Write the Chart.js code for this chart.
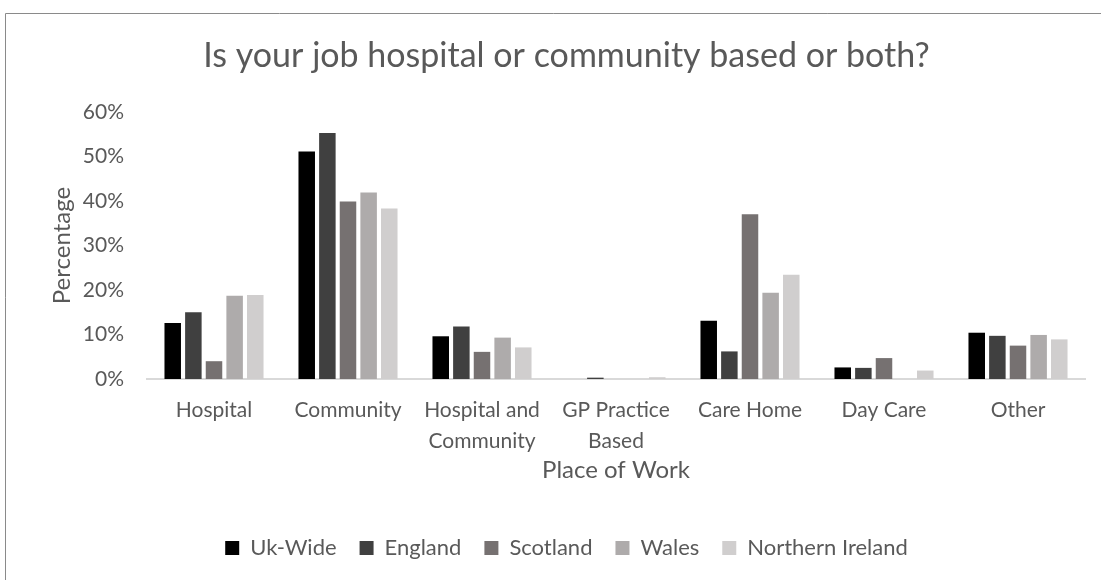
<!DOCTYPE html>
<html>
<head>
<meta charset="utf-8">
<script src="https://cdn.jsdelivr.net/npm/chart.js@4.4.1/dist/chart.umd.min.js"></script>
<style>
  html, body { margin: 0; padding: 0; background: #ffffff; }
  #wrap { position: relative; width: 1101px; height: 580px; }
  canvas { display: block; }
</style>
</head>
<body>
<div id="wrap"><canvas id="c" width="1101" height="580"></canvas></div>
<script>
const categories = ["Hospital", "Community", ["Hospital and", "Community"], ["GP Practice", "Based"], "Care Home", "Day Care", "Other"];
const seriesNames = ["Uk-Wide", "England", "Scotland", "Wales", "Northern Ireland"];
const ukWide   = [12.6, 51.1, 9.6, 0.0, 13.1, 2.6, 10.4];
const england  = [15.0, 55.3, 11.8, 0.3, 6.2, 2.5, 9.7];
const scotland = [4.0, 39.9, 6.1, 0.0, 37.0, 4.7, 7.5];
const wales    = [18.7, 41.9, 9.3, 0.0, 19.4, 0.0, 9.9];
const nIreland = [18.9, 38.3, 7.1, 0.4, 23.4, 1.9, 8.9];
const seriesColors = ["#000000", "#404040", "#767171", "#AEABAB", "#D0CECE"];
const yTicks = [0, 10, 20, 30, 40, 50, 60];
const chartTitle = "Is your job hospital or community based or both?";
const xTitle = "Place of Work";
const yTitle = "Percentage";

const FONT = "Lato, 'Open Sans', sans-serif";
const TEXT = "#595959";

const allSeries = [ukWide, england, scotland, wales, nIreland];

const decorPlugin = {
  id: 'decor',
  beforeDraw(chart) {
    const ctx = chart.ctx;
    ctx.save();
    ctx.fillStyle = '#ffffff';
    ctx.fillRect(0, 0, chart.width, chart.height);
    ctx.strokeStyle = '#8a8a8a';
    ctx.lineWidth = 1;
    ctx.beginPath();
    ctx.moveTo(5.5, chart.height + 5);
    ctx.lineTo(5.5, 13.5);
    ctx.lineTo(chart.width + 5, 13.5);
    ctx.stroke();
    ctx.restore();
  },
  afterLayout(chart) {
    if (chart.legend) {
      chart.legend.left += 19;
      chart.legend.right += 19;
    }
    if (chart.titleBlock) {
      chart.titleBlock.left += 19;
      chart.titleBlock.right += 19;
    }
  }
};

new Chart(document.getElementById('c'), {
  type: 'bar',
  data: {
    labels: categories,
    datasets: seriesNames.map((name, i) => ({
      label: name,
      data: allSeries[i],
      backgroundColor: seriesColors[i],
      borderWidth: 0,
      categoryPercentage: 0.77,
      barPercentage: 0.8
    }))
  },
  options: {
    responsive: false,
    animation: false,
    devicePixelRatio: 1,
    layout: { padding: { left: 10, right: 16, top: 0, bottom: 11 } },
    plugins: {
      title: {
        display: true,
        text: chartTitle,
        color: TEXT,
        font: { family: FONT, size: 34, weight: 'normal', lineHeight: 1.2 },
        padding: { top: 35.6, bottom: 35.6 }
      },
      legend: {
        position: 'bottom',
        labels: {
          color: TEXT,
          font: { family: FONT, size: 22 },
          boxWidth: 14,
          boxHeight: 14,
          padding: 23
        }
      },
      tooltip: { enabled: false }
    },
    scales: {
      x: {
        grid: { display: false, drawTicks: false },
        border: { display: true, color: '#d9d9d9', width: 2 },
        ticks: { color: TEXT, font: { family: FONT, size: 21, lineHeight: 1.476 }, padding: 15.7, maxRotation: 0, autoSkip: false },
        title: { display: true, text: xTitle, color: TEXT, font: { family: FONT, size: 24, lineHeight: 1.2 }, padding: { top: 4, bottom: 29.6 } },
        afterFit(scale) { scale.height = 135; }
      },
      y: {
        min: 0,
        max: 60,
        afterBuildTicks(scale) { scale.ticks = yTicks.map(v => ({ value: v })); },
        grid: { display: false, drawTicks: false },
        border: { display: false },
        ticks: { color: TEXT, font: { family: FONT, size: 21 }, padding: 23, callback: v => v + '%' },
        title: { display: true, text: yTitle, color: TEXT, font: { family: FONT, size: 24, lineHeight: 1.2 }, padding: { top: 37.6, bottom: 0 } },
        afterFit(scale) { scale.width = 137; }
      }
    }
  },
  plugins: [decorPlugin]
});
</script>
</body>
</html>
